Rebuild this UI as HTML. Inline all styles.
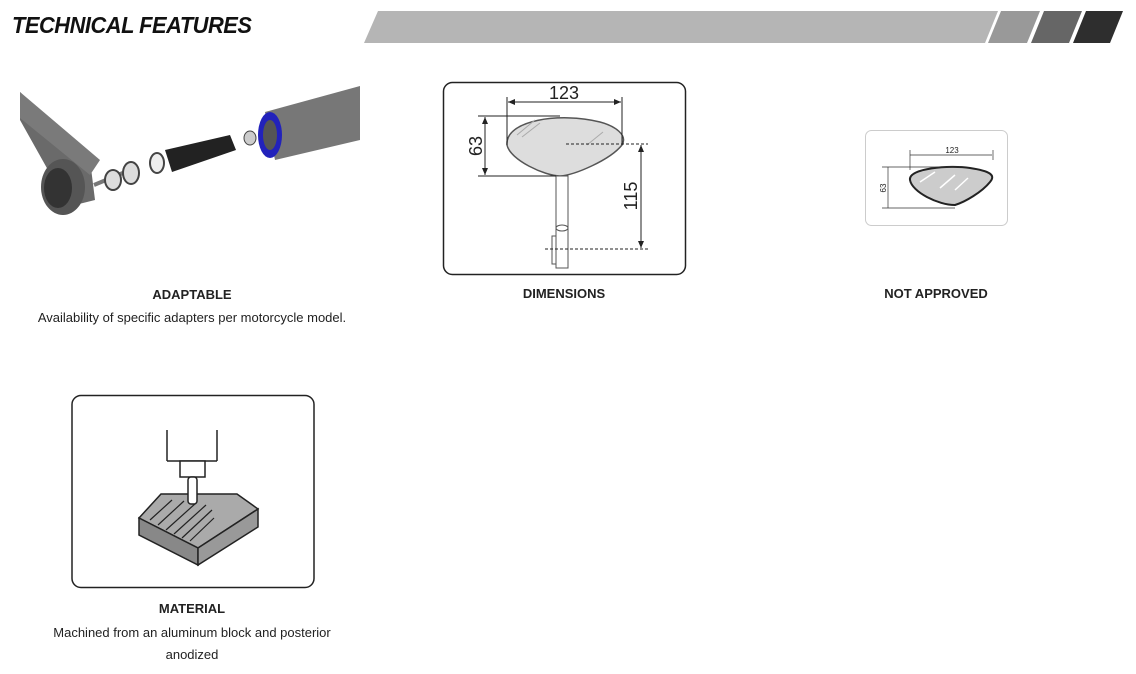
<!DOCTYPE html>
<html><head><meta charset="utf-8"><style>
body{margin:0;width:1136px;height:674px;background:#fff;position:relative;overflow:hidden;font-family:"Liberation Sans",sans-serif;}
.t{position:absolute;font-size:13px;color:#222;text-align:center;}
.b{font-weight:bold;font-size:13px;}
h1{position:absolute;left:12px;top:12px;margin:0;font-size:23px;font-style:italic;font-weight:bold;letter-spacing:-0.5px;transform:scaleX(0.95);transform-origin:left;color:#111;}
svg{position:absolute;left:0;top:0;}
</style></head><body>
<h1>TECHNICAL FEATURES</h1>
<svg width="1136" height="674" viewBox="0 0 1136 674">
<defs><marker id="a" markerWidth="8" markerHeight="8" refX="7" refY="4" orient="auto-start-reverse"><path d="M0,1 L7,4 L0,7 Z" fill="#222"/></marker></defs>
<polygon points="378,11 998,11 985,43 364,43" fill="#b5b5b5"/>
<polygon points="1001,11 1040,11 1027,43 988,43" fill="#999"/>
<polygon points="1044,11 1082,11 1069,43 1031,43" fill="#666"/>
<polygon points="1086,11 1123,11 1110,43 1073,43" fill="#2e2e2e"/>

<!-- adaptable -->
<g>
<polygon points="20,92 20,120 48,170 55,210 95,200 90,160 20,92" fill="#6a6a6a"/>
<polygon points="20,92 100,160 90,175 20,118" fill="#7a7a7a"/>
<ellipse cx="63" cy="187" rx="22" ry="28" fill="#555"/>
<ellipse cx="58" cy="188" rx="14" ry="20" fill="#333"/>
<line x1="94" y1="185" x2="130" y2="170" stroke="#777" stroke-width="4"/>
<ellipse cx="113" cy="180" rx="8" ry="10" fill="#ddd" stroke="#444" stroke-width="2"/>
<ellipse cx="131" cy="173" rx="8" ry="11" fill="#ddd" stroke="#444" stroke-width="2"/>
<ellipse cx="157" cy="163" rx="7" ry="10" fill="#eee" stroke="#444" stroke-width="2"/>
<polygon points="165,150 230,135 236,150 172,172" fill="#222"/>
<ellipse cx="250" cy="138" rx="6" ry="7" fill="#ccc" stroke="#444"/>
<polygon points="265,112 360,86 360,140 275,160" fill="#777"/>
<ellipse cx="270" cy="135" rx="12" ry="23" fill="#2222bb"/>
<ellipse cx="270" cy="135" rx="7" ry="15" fill="#555"/>
</g>

<!-- dimensions -->
<rect x="443.5" y="82.5" width="242" height="192" rx="9" fill="#fff" stroke="#222" stroke-width="1.5"/>
<path d="M507,145 C505,120 560,112 600,122 C615,126 628,135 622,145 C610,160 575,175 560,176 C545,176 510,160 507,145 Z" fill="#ddd" stroke="#555" stroke-width="1.5"/>
<line x1="517" y1="135" x2="535" y2="120" stroke="#aaa"/><line x1="522" y1="137" x2="540" y2="123" stroke="#aaa"/>
<line x1="587" y1="145" x2="603" y2="132" stroke="#aaa"/>
<rect x="556" y="176" width="12" height="92" fill="#fff" stroke="#555"/>
<ellipse cx="562" cy="228" rx="6" ry="3" fill="#fff" stroke="#555"/>
<rect x="552" y="236" width="4" height="28" fill="#fff" stroke="#555"/>
<g stroke="#222" stroke-width="1" fill="none">
<line x1="508" y1="102" x2="621" y2="102" marker-start="url(#a)" marker-end="url(#a)"/><line x1="507" y1="97" x2="507" y2="145"/><line x1="622" y1="97" x2="622" y2="145"/>
<line x1="485" y1="117" x2="485" y2="175" marker-start="url(#a)" marker-end="url(#a)"/><line x1="478" y1="116" x2="560" y2="116"/><line x1="478" y1="176" x2="556" y2="176"/>
<line x1="641" y1="145" x2="641" y2="248" marker-start="url(#a)" marker-end="url(#a)"/><line x1="566" y1="144" x2="648" y2="144" stroke-dasharray="3,2"/><line x1="545" y1="249" x2="648" y2="249" stroke-dasharray="3,2"/>
</g>
<text x="564" y="99" font-size="18" text-anchor="middle" fill="#222" font-family="Liberation Sans">123</text>
<text transform="translate(482,146) rotate(-90)" font-size="18" text-anchor="middle" fill="#222" font-family="Liberation Sans">63</text>
<text transform="translate(637,196) rotate(-90)" font-size="18" text-anchor="middle" fill="#222" font-family="Liberation Sans">115</text>

<!-- not approved -->
<rect x="865.5" y="130.5" width="142" height="95" rx="6" fill="#fff" stroke="#ccc"/>
<path d="M910,180 C908,168 950,165 970,168 C990,171 996,175 990,182 C982,192 965,202 955,205 C938,205 912,192 910,180Z" fill="#ccc" stroke="#222" stroke-width="2"/>
<path d="M920,182 L935,172 M940,188 L955,175 M955,190 L968,178" stroke="#fff" stroke-width="1.5"/>
<g stroke="#333" stroke-width="0.7"><line x1="910" y1="155" x2="992" y2="155"/><line x1="910" y1="150" x2="910" y2="170"/><line x1="993" y1="150" x2="993" y2="160"/>
<line x1="888" y1="167" x2="888" y2="208"/><line x1="882" y1="167" x2="960" y2="167"/><line x1="882" y1="208" x2="955" y2="208"/></g>
<text x="952" y="153" font-size="8" text-anchor="middle" fill="#222">123</text>
<text transform="translate(886,188) rotate(-90)" font-size="8" text-anchor="middle" fill="#222">63</text>

<!-- material -->
<rect x="72" y="395.5" width="242" height="192" rx="9" fill="#fff" stroke="#222" stroke-width="1.5"/>
<polygon points="139,518 161,494 237,494 258,509 198,548" fill="#aaa" stroke="#222" stroke-width="1.5"/>
<polygon points="139,518 198,548 198,565 139,535" fill="#888" stroke="#222" stroke-width="1.5"/>
<polygon points="198,548 258,509 258,527 198,565" fill="#999" stroke="#222" stroke-width="1.5"/>
<g stroke="#222" stroke-width="1.2"><line x1="150" y1="520" x2="172" y2="500"/><line x1="158" y1="525" x2="184" y2="501"/><line x1="166" y1="530" x2="196" y2="503"/><line x1="174" y1="534" x2="206" y2="505"/><line x1="182" y1="538" x2="212" y2="510"/><line x1="190" y1="541" x2="214" y2="518"/></g>
<g stroke="#222" stroke-width="1.5" fill="#fff"><line x1="167" y1="430" x2="167" y2="461"/><line x1="217" y1="430" x2="217" y2="461"/><line x1="167" y1="461" x2="217" y2="461"/>
<rect x="180" y="461" width="25" height="16"/><rect x="188" y="477" width="9" height="27" rx="3"/></g>
</svg>
<div class="t b" style="left:92px;top:287px;width:200px;">ADAPTABLE</div>
<div class="t" style="left:12px;top:310px;width:360px;">Availability of specific adapters per motorcycle model.</div>
<div class="t b" style="left:464px;top:286px;width:200px;">DIMENSIONS</div>
<div class="t b" style="left:836px;top:286px;width:200px;">NOT APPROVED</div>
<div class="t b" style="left:92px;top:601px;width:200px;">MATERIAL</div>
<div class="t" style="left:22px;top:622px;width:340px;line-height:22px;">Machined from an aluminum block and posterior<br>anodized</div>
</body></html>
